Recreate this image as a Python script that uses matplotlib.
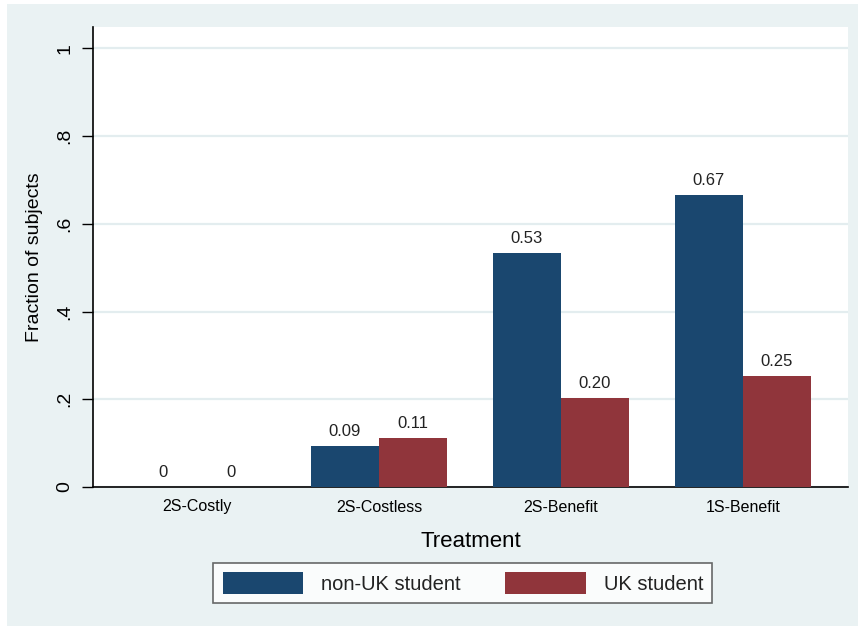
import matplotlib
matplotlib.use("Agg")
import matplotlib.pyplot as plt
import numpy as np

NAVY = "#1a476f"
MAROON = "#90353b"
BG = "#eaf2f3"
TEXT = "#222222"

plt.rcParams.update({
    "font.family": ["Liberation Sans", "DejaVu Sans"],
    "text.color": TEXT,
})

treatments = ["2S-Costly", "2S-Costless", "2S-Benefit", "1S-Benefit"]
non_uk = [0.0, 0.093, 0.533, 0.667]
uk = [0.0, 0.111, 0.203, 0.253]
series_names = ["non-UK student", "UK student"]
yticks = [0, 0.2, 0.4, 0.6, 0.8, 1.0]
ytick_labels = ["0", ".2", ".4", ".6", ".8", "1"]


def _fmt(v):
    return "0" if v == 0 else f"{v:.2f}"


fig = plt.figure(figsize=(8.58, 6.26), dpi=100)
fig.patch.set_facecolor("white")
# light panel behind everything (white strip at top/left like the source)
fig.patches.append(plt.Rectangle((7 / 858, 0), 1, 1 - 4 / 626,
                                 transform=fig.transFigure, facecolor=BG,
                                 edgecolor="none", zorder=-10))

ax = fig.add_axes([93 / 858, 1 - 487 / 626, (848 - 93) / 858, (487 - 27) / 626])
ax.set_facecolor("white")

x = np.arange(len(treatments))
w = 0.374
b1 = ax.bar(x - w / 2, non_uk, width=w, color=NAVY, label=series_names[0], zorder=3)
b2 = ax.bar(x + w / 2, uk, width=w, color=MAROON, label=series_names[1], zorder=3)
for bars, vals in ((b1, non_uk), (b2, uk)):
    ax.bar_label(bars, labels=[_fmt(v) for v in vals], padding=5,
                 fontsize=12, color=TEXT)

ax.set_xlim(-0.571, 3.577)
ax.set_ylim(0, 1.049)
ax.set_xticks(x)
ax.set_xticklabels(treatments, fontsize=11.5)
ax.tick_params(axis="x", length=0, pad=9)
ax.set_yticks(yticks)
ax.set_yticklabels(ytick_labels, rotation=90, va="center", fontsize=14)
ax.tick_params(axis="y", length=8, width=1, pad=6)
ax.grid(axis="y", color="#e3edef", linewidth=1.6, zorder=0)
ax.spines[["top", "right"]].set_visible(False)
ax.spines["left"].set_linewidth(1.2)
ax.spines["bottom"].set_linewidth(1.2)

ax.set_xlabel("Treatment", fontsize=16, labelpad=12)
ax.set_ylabel("Fraction of subjects", fontsize=14, labelpad=10)

leg = ax.legend(loc="upper center", bbox_to_anchor=(0.49, -0.143), ncol=2,
                fontsize=14.5, frameon=True, fancybox=False, edgecolor="#444444",
                handlelength=4, handleheight=1.3, handletextpad=0.9,
                columnspacing=2.2, borderpad=0.45)
leg.get_frame().set_linewidth(1.2)

fig.savefig("out.png", dpi=100)
